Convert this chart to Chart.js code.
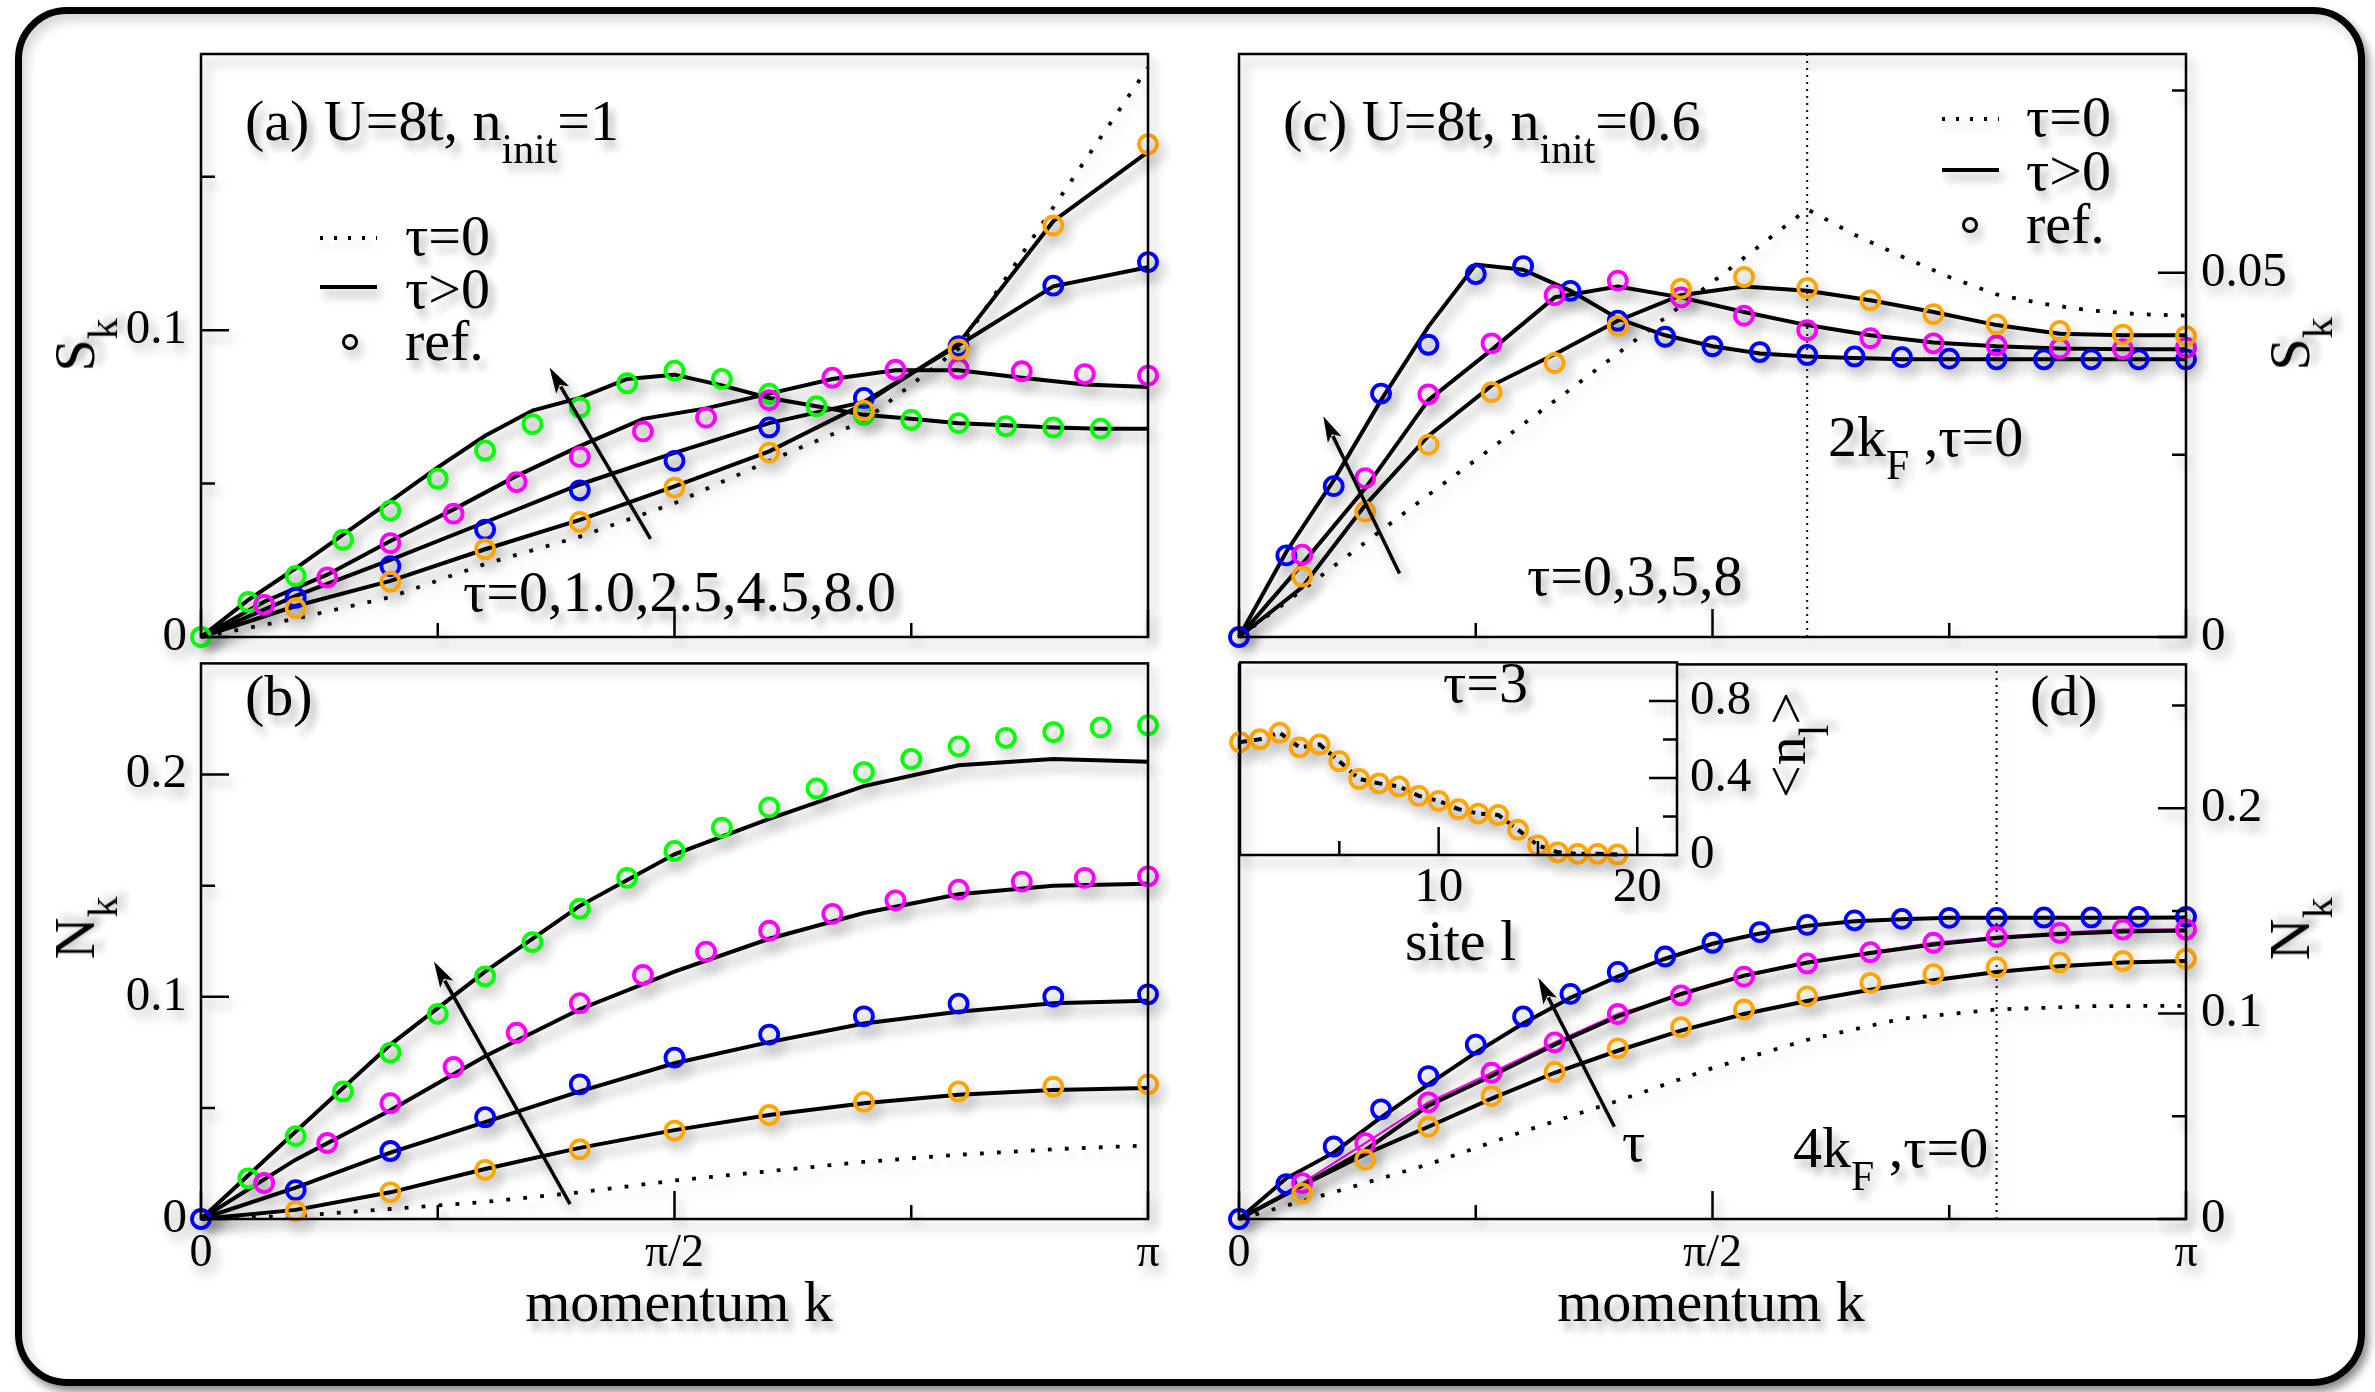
<!DOCTYPE html>
<html>
<head>
<meta charset="utf-8">
<title>Spin and charge structure factors after a ramp of the interaction</title>
<script src="https://cdn.jsdelivr.net/npm/chart.js@4.4.1/dist/chart.umd.min.js"></script>
<style>
  html, body { margin: 0; padding: 0; background: #fff; }
  body { width: 2375px; height: 1392px; position: relative; overflow: hidden;
         font-family: 'Liberation Serif', 'Times New Roman', serif; }
  #box { position: absolute; left: 15px; top: 7px; width: 2350px; height: 1379px; box-sizing: border-box;
         border: 7px solid #000; border-radius: 52px;
         box-shadow: 4px 6px 8px rgba(0,0,0,0.45), inset 5px 7px 12px rgba(0,0,0,0.16); }
  canvas { position: absolute; }
  .t { position: absolute; white-space: nowrap; font-size: 58px; line-height: 1; color: #000;
       text-shadow: 5px 8px 8px rgba(0,0,0,0.32); }
  .t sub { font-size: 0.72em; vertical-align: -0.55em; line-height: 0; }
  .c { transform: translateX(-50%); }
  .r { transform: translate(-50%, -50%) rotate(-90deg); }
  .smp { position: absolute; filter: drop-shadow(4px 7px 5px rgba(0,0,0,0.35)); }
  .dots { height: 3.5px; background: repeating-linear-gradient(90deg, #000 0 3.5px, transparent 3.5px 14px); }
  .bar { height: 4px; background: #000; }
  .ring { width: 16px; height: 16px; box-sizing: border-box; border: 3px solid #000; border-radius: 50%; }
</style>
</head>
<body>
<div id="box"></div>
<canvas id="cA" width="1200" height="690" style="left:0;top:0"></canvas>
<canvas id="cB" width="1200" height="760" style="left:0;top:620px"></canvas>
<canvas id="cC" width="1195" height="690" style="left:1180px;top:0"></canvas>
<canvas id="cD" width="1195" height="760" style="left:1180px;top:620px"></canvas>
<canvas id="cI" width="700" height="360" style="left:1180px;top:620px"></canvas>

<!-- panel (a) -->
<div class="t" style="left:245px;top:92px">(a) U=8t, n<sub>init</sub>=1</div>
<div class="smp dots" style="left:320px;top:236px;width:57px"></div>
<div class="smp bar" style="left:320px;top:285px;width:57px"></div>
<div class="smp ring" style="left:342px;top:334px"></div>
<div class="t" style="left:405px;top:207px">τ=0</div>
<div class="t" style="left:405px;top:260px">τ&gt;0</div>
<div class="t" style="left:405px;top:312px">ref.</div>
<div class="t" style="left:463px;top:563px">τ=0,1.0,2.5,4.5,8.0</div>
<div class="t r" style="left:75px;top:345px">S<sub>k</sub></div>

<!-- panel (b) -->
<div class="t" style="left:245px;top:667px">(b)</div>
<div class="t r" style="left:75px;top:928px">N<sub>k</sub></div>
<div class="t c" style="left:679px;top:1273px">momentum k</div>

<!-- panel (c) -->
<div class="t" style="left:1283px;top:92px">(c) U=8t, n<sub>init</sub>=0.6</div>
<div class="smp dots" style="left:1942px;top:117px;width:57px"></div>
<div class="smp bar" style="left:1942px;top:168px;width:57px"></div>
<div class="smp ring" style="left:1962px;top:217px"></div>
<div class="t" style="left:2026px;top:88px">τ=0</div>
<div class="t" style="left:2026px;top:142px">τ&gt;0</div>
<div class="t" style="left:2026px;top:195px">ref.</div>
<div class="t" style="left:1828px;top:408px">2k<sub>F</sub> ,τ=0</div>
<div class="t" style="left:1527px;top:547px">τ=0,3,5,8</div>
<div class="t r" style="left:2290px;top:344px">S<sub>k</sub></div>

<!-- panel (d) and inset -->
<div class="t" style="left:2030px;top:667px">(d)</div>
<div class="t" style="left:1443px;top:654px">τ=3</div>
<div class="t r" style="left:1786px;top:745px">&lt;n<sub>l</sub>&gt;</div>
<div class="t" style="left:1405px;top:912px">site l</div>
<div class="t" style="left:1622px;top:1113px">τ</div>
<div class="t" style="left:1793px;top:1119px">4k<sub>F</sub> ,τ=0</div>
<div class="t r" style="left:2290px;top:929px">N<sub>k</sub></div>
<div class="t c" style="left:1711px;top:1273px">momentum k</div>

<script>
// ---------- data ----------
// momentum grids, k in units of π
const k10 = [0, 0.1, 0.2, 0.3, 0.4, 0.5, 0.6, 0.7, 0.8, 0.9, 1];
const k15 = [0, 0.0667, 0.1333, 0.2, 0.2667, 0.3333, 0.4, 0.4667, 0.5333, 0.6, 0.6667, 0.7333, 0.8, 0.8667, 0.9333, 1];
const k20 = [0, 0.05, 0.1, 0.15, 0.2, 0.25, 0.3, 0.35, 0.4, 0.45, 0.5, 0.55, 0.6, 0.65, 0.7, 0.75, 0.8, 0.85, 0.9, 0.95, 1];

// axis ticks (k axis shared by all four panels)
const kTicks = [0, 0.25, 0.5, 0.75, 1];
const kLabels = ['0', '', 'π/2', '', 'π'];
const kMajor = [0, 0.5, 1];

// (a) spin structure factor S_k, U=8t, n_init=1
const aTau0  = [0, 0.006, 0.013, 0.0238, 0.0327, 0.0436, 0.0574, 0.0704, 0.094, 0.140, 0.1856];
const aLine1 = [0, 0.0101, 0.0183, 0.0286, 0.0382, 0.0491, 0.0605, 0.0759, 0.0957, 0.1355, 0.1581];
const aRef1  = [0.0094, 0.0180, 0.0286, 0.0375, 0.0487, 0.0601, 0.0738, 0.0937, 0.1341, 0.1606];
const aLine25 = [0, 0.0134, 0.0251, 0.0374, 0.0497, 0.0600, 0.0697, 0.0766, 0.0951, 0.1143, 0.1205];
const aRef25  = [0.0128, 0.0231, 0.0350, 0.0478, 0.0574, 0.0683, 0.0779, 0.0948, 0.1145, 0.1222];
const aLine45 = [0, 0.0115, 0.0203, 0.0313, 0.0416, 0.0525, 0.0622, 0.0711, 0.0745, 0.0793, 0.0841, 0.0869, 0.0869, 0.0845, 0.0823, 0.0815];
const aRef45  = [0.0105, 0.0194, 0.0306, 0.0402, 0.0505, 0.0587, 0.0670, 0.0715, 0.0772, 0.0845, 0.0871, 0.0875, 0.0866, 0.0857, 0.0852];
const aLine8 = [0, 0.0121, 0.0224, 0.0334, 0.0443, 0.0553, 0.0656, 0.0738, 0.0779, 0.0841, 0.0855, 0.0820, 0.0779, 0.0752, 0.0724, 0.0711, 0.0697, 0.0690, 0.0683, 0.0679, 0.0679];
const aRef8  = [0, 0.0114, 0.0199, 0.0317, 0.0412, 0.0516, 0.0608, 0.0694, 0.0748, 0.0827, 0.0868, 0.0841, 0.0793, 0.0752, 0.0724, 0.0708, 0.0697, 0.0687, 0.0683, 0.0679];
const aTicks = [0, 0.05, 0.1, 0.15];
const aLabels = ['0', '', '0.1', ''];
const aMajor = [0, 0.1];
const aArrow = [[0.4747, 0.0320], [0.368, 0.0878]];

// (b) charge structure factor N_k, U=8t, n_init=1
const bTau0  = [0, 0.0014, 0.0045, 0.0077, 0.0120, 0.0173, 0.0215, 0.0257, 0.0289, 0.0314, 0.0331];
const bLine1 = [0, 0.0041, 0.0120, 0.0225, 0.0320, 0.0400, 0.0468, 0.0521, 0.0559, 0.0580, 0.0589];
const bRef1  = [0.0035, 0.0120, 0.0221, 0.0314, 0.0398, 0.0468, 0.0527, 0.0574, 0.0595, 0.0606];
const bLine25 = [0, 0.0141, 0.0299, 0.0436, 0.0574, 0.0701, 0.0796, 0.0880, 0.0933, 0.0971, 0.0982];
const bRef25  = [0, 0.0130, 0.0306, 0.0458, 0.0606, 0.0726, 0.0830, 0.0912, 0.0969, 0.1001, 0.1011];
const bLine45 = [0, 0.0267, 0.0489, 0.0732, 0.0944, 0.1113, 0.1261, 0.1377, 0.1461, 0.1500, 0.1508];
const bRef45  = [0.0162, 0.0342, 0.0521, 0.0684, 0.0838, 0.0971, 0.1098, 0.1203, 0.1297, 0.1373, 0.1434, 0.1482, 0.1518, 0.1535, 0.1542];
const bLine8 = [0, 0.0394, 0.0785, 0.1113, 0.1409, 0.1641, 0.1800, 0.1948, 0.2042, 0.2070, 0.2058];
const bRef8  = [0.0183, 0.0373, 0.0574, 0.0749, 0.0923, 0.1092, 0.1246, 0.1396, 0.1535, 0.1656, 0.1761, 0.1852, 0.1937, 0.2011, 0.2070, 0.2127, 0.2165, 0.2191, 0.2212, 0.2222];
const bTicks = [0, 0.05, 0.1, 0.15, 0.2];
const bLabels = ['0', '', '0.1', '', '0.2'];
const bMajor = [0, 0.1, 0.2];
const bArrow = [[0.3897, 0.0067], [0.246, 0.1159]];

// (c) S_k, U=8t, n_init=0.6 ; τ = 0, 3, 5, 8
const cTau0 = [0, 0.0048, 0.0097, 0.0146, 0.0195, 0.0243, 0.0292, 0.034, 0.0389, 0.0438, 0.0487, 0.0537, 0.0587, 0.0552, 0.0522, 0.0494, 0.0470, 0.0457, 0.0448, 0.0443, 0.0441];
const cLine3 = [0, 0.0068, 0.0181, 0.0276, 0.0345, 0.0388, 0.0434, 0.0469, 0.0481, 0.0475, 0.0462, 0.0446, 0.0428, 0.0416, 0.0414, 0.0414];
const cRef3  = [0.0083, 0.0172, 0.0264, 0.0336, 0.0376, 0.0427, 0.0478, 0.0494, 0.0479, 0.0462, 0.0443, 0.0429, 0.0420, 0.0415, 0.0413];
const cLine5 = [0, 0.0100, 0.0204, 0.0325, 0.0394, 0.0466, 0.0481, 0.0466, 0.0446, 0.0428, 0.0414, 0.0404, 0.0399, 0.0396, 0.0395, 0.0395];
const cRef5  = [0.0113, 0.0218, 0.0333, 0.0403, 0.0469, 0.0489, 0.0466, 0.0441, 0.0421, 0.0410, 0.0403, 0.0400, 0.0396, 0.0395, 0.0397];
const cLine8 = [0, 0.0117, 0.0215, 0.0325, 0.0426, 0.0511, 0.0504, 0.0475, 0.0437, 0.0414, 0.0399, 0.0389, 0.0385, 0.0383, 0.0381, 0.0381, 0.0381, 0.0381, 0.0381, 0.0381, 0.0381];
const cRef8  = [0, 0.0112, 0.0207, 0.0334, 0.0401, 0.0498, 0.0509, 0.0475, 0.0434, 0.0412, 0.0399, 0.0391, 0.0387, 0.0385, 0.0384, 0.0382, 0.0381, 0.0381, 0.0381, 0.0381, 0.0381];
const cTicks = [0, 0.025, 0.05, 0.075];
const cLabels = ['0', '', '0.05', ''];
const cMajor = [0, 0.05];
const c2kF = 0.6;
const cArrow = [[0.1695, 0.0087], [0.089, 0.0303]];

// (d) N_k, U=8t, n_init=0.6
const dTau0 = [0, 0.013, 0.0266, 0.0426, 0.0575, 0.0735, 0.0872, 0.0975, 0.1020, 0.1036, 0.1038];
const dLine3 = [0, 0.0163, 0.0316, 0.0449, 0.0586, 0.0712, 0.0819, 0.0917, 0.0998, 0.1061, 0.1116, 0.1162, 0.1203, 0.1231, 0.1249, 0.1256];
const dRef3  = [0.0125, 0.0289, 0.0449, 0.0598, 0.0716, 0.0831, 0.0934, 0.1020, 0.1084, 0.1150, 0.1192, 0.1226, 0.1249, 0.1256, 0.1267];
const dLine5 = [0, 0.0163, 0.0335, 0.0552, 0.0696, 0.0849, 0.0986, 0.1096, 0.1185, 0.1249, 0.1295, 0.1336, 0.1368, 0.1388, 0.1400, 0.1404];
const dRef5  = [0.0175, 0.0369, 0.0568, 0.0712, 0.0860, 0.0998, 0.1089, 0.1180, 0.1244, 0.1299, 0.1345, 0.1374, 0.1393, 0.1409, 0.1409];
const dLine8 = [0, 0.0198, 0.0323, 0.0495, 0.0655, 0.0810, 0.0952, 0.1077, 0.1180, 0.1267, 0.1340, 0.1390, 0.1427, 0.1450, 0.1459, 0.1466, 0.1466, 0.1466, 0.1466, 0.1466, 0.1468];
const dRef8  = [0, 0.0170, 0.0353, 0.0534, 0.0696, 0.0849, 0.0986, 0.1096, 0.1203, 0.1278, 0.1345, 0.1397, 0.1432, 0.1454, 0.1461, 0.1466, 0.1466, 0.1468, 0.1468, 0.1471, 0.1471];
const dTicks = [0, 0.05, 0.1, 0.15, 0.2, 0.25];
const dLabels = ['0', '', '0.1', '', '0.2', ''];
const dMajor = [0, 0.1, 0.2];
const d4kF = 0.8;
const dArrow = [[0.3964, 0.0449], [0.316, 0.1174]];

// inset: site occupation <n_l> at τ=3
const sites = [0, 1, 2, 3, 4, 5, 6, 7, 8, 9, 10, 11, 12, 13, 14, 15, 16, 17, 18, 19];
const nSite = [0.586, 0.601, 0.635, 0.559, 0.574, 0.487, 0.395, 0.372, 0.356, 0.307, 0.281, 0.238, 0.215, 0.208, 0.131, 0.050, 0.014, 0.006, 0.006, 0.003];
const siteTicks = [5, 10, 15, 20];
const siteLabels = ['', '10', '', '20'];
const siteMajor = [10, 20];
const nTicks = [0, 0.2, 0.4, 0.6, 0.8];
const nLabels = ['0', '', '0.4', '', '0.8'];
const nMajor = [0.4, 0.8];

// ---------- styling ----------
const FONT = "'Liberation Serif', 'Times New Roman', serif";
const ORANGE = '#ffa500', BLUE = '#0000ff', MAGENTA = '#ff00ff', GREEN = '#00ff00';

Chart.defaults.color = '#000';
Chart.defaults.font.family = FONT;

const xy = (ks, ys, from = 0) => ys.map((y, i) => ({ x: ks[i + from], y }));

const solid = data => ({ data, showLine: true, borderColor: '#000', borderWidth: 4, pointRadius: 0, order: 2, clip: false });
const dotted = data => ({ data, showLine: true, borderColor: '#000', borderWidth: 3.8, borderDash: [3.8, 13.2],
  borderCapStyle: 'butt', pointRadius: 0, order: 3, clip: false });
const rings = (data, color) => ({ data, showLine: false, pointRadius: 9, pointBorderWidth: 3.8,
  pointBorderColor: color, pointBackgroundColor: 'rgba(0,0,0,0)', order: 1, clip: false });
const thin = (data, color) => ({ data, showLine: true, borderColor: color, borderWidth: 2, pointRadius: 0, order: 2.5, clip: false });
const marker = (k, top) => ({ data: [{ x: k, y: 0 }, { x: k, y: top }], showLine: true, borderColor: '#000',
  borderWidth: 2, borderDash: [2, 5], pointRadius: 0, order: 4, clip: false });

function shade(ctx) {
  ctx.shadowColor = 'rgba(0,0,0,0.33)';
  ctx.shadowBlur = 12;
  ctx.shadowOffsetX = 5;
  ctx.shadowOffsetY = 8;
}

// frame, inward tick marks and the τ arrow of one panel
function decor(d) {
  return {
    id: 'decor',
    beforeDraw(chart) {
      const { ctx, chartArea: a } = chart;
      if (d.fill) {
        ctx.save();
        ctx.fillStyle = '#fff';
        ctx.fillRect(a.left, a.top, a.right - a.left, a.bottom - a.top);
        ctx.restore();
      }
      ctx.save();
      shade(ctx);
    },
    afterDraw(chart) {
      const { ctx, chartArea: a, scales: { x, y } } = chart;
      ctx.setLineDash([]);
      ctx.strokeStyle = '#000';
      ctx.fillStyle = '#000';
      ctx.lineWidth = 2.5;
      ctx.strokeRect(a.left, a.top, a.right - a.left, a.bottom - a.top);
      ctx.beginPath();
      d.xt.vals.forEach(v => {
        const p = x.getPixelForValue(v), L = d.xt.major.includes(v) ? 28 : 14;
        ctx.moveTo(p, a.bottom); ctx.lineTo(p, a.bottom - L);
      });
      d.yt.vals.forEach(v => {
        const p = y.getPixelForValue(v), L = d.yt.major.includes(v) ? 28 : 14;
        const e = d.right ? a.right : a.left;
        ctx.moveTo(e, p); ctx.lineTo(d.right ? e - L : e + L, p);
      });
      ctx.stroke();
      if (d.arrow) {
        const [t, h] = d.arrow;
        const x0 = x.getPixelForValue(t[0]), y0 = y.getPixelForValue(t[1]);
        const x1 = x.getPixelForValue(h[0]), y1 = y.getPixelForValue(h[1]);
        const ang = Math.atan2(y1 - y0, x1 - x0), HL = 26, HW = 7.5;
        const bx = x1 - HL * Math.cos(ang), by = y1 - HL * Math.sin(ang);
        ctx.lineWidth = 3.5;
        ctx.beginPath(); ctx.moveTo(x0, y0); ctx.lineTo(bx + 4 * Math.cos(ang), by + 4 * Math.sin(ang)); ctx.stroke();
        ctx.beginPath();
        ctx.moveTo(x1, y1);
        ctx.lineTo(bx + HW * Math.sin(ang), by - HW * Math.cos(ang));
        ctx.lineTo(bx + 6 * Math.cos(ang), by + 6 * Math.sin(ang));
        ctx.lineTo(bx - HW * Math.sin(ang), by + HW * Math.cos(ang));
        ctx.closePath();
        ctx.fill();
      }
      ctx.restore();
    }
  };
}

function panel(id, c) {
  const label = (t, v) => { const i = t.vals.indexOf(v); return i < 0 ? '' : t.labels[i]; };
  return new Chart(document.getElementById(id), {
    type: 'scatter',
    data: { datasets: c.datasets },
    options: {
      responsive: false, animation: false, devicePixelRatio: 1, events: [],
      layout: { padding: c.pad, autoPadding: false },
      plugins: { legend: { display: false }, tooltip: { enabled: false } },
      scales: {
        x: {
          type: 'linear', position: 'bottom', min: c.xr[0], max: c.xr[1],
          grid: { display: false, drawTicks: false }, border: { display: false },
          ticks: { display: c.xt.show, autoSkip: false, maxRotation: 0, minRotation: 0, padding: c.xt.pad,
                   font: { family: FONT, size: c.xt.size }, color: '#000', callback: v => label(c.xt, v) },
          afterBuildTicks: s => { s.ticks = c.xt.vals.map(v => ({ value: v })); },
          afterFit: s => { s.height = c.xt.h; }
        },
        y: {
          type: 'linear', position: c.right ? 'right' : 'left', min: c.yr[0], max: c.yr[1],
          grid: { display: false, drawTicks: false }, border: { display: false },
          ticks: { autoSkip: false, padding: c.yt.pad, font: { family: FONT, size: c.yt.size }, color: '#000',
                   callback: v => label(c.yt, v) },
          afterBuildTicks: s => { s.ticks = c.yt.vals.map(v => ({ value: v })); },
          afterFit: s => { s.width = c.yt.w; }
        }
      }
    },
    plugins: [decor(c)]
  });
}

const kAxisHidden = { vals: kTicks, labels: kLabels, major: kMajor, show: false, pad: 8, size: 46, h: 0 };
const kAxisShown  = { vals: kTicks, labels: kLabels, major: kMajor, show: true,  pad: 7, size: 46, h: 80 };

// (a)
panel('cA', {
  xr: [0, 1], yr: [0, 0.19], right: false, arrow: aArrow,
  pad: { left: 51, top: 54, right: 52, bottom: 53 },
  xt: kAxisHidden,
  yt: { vals: aTicks, labels: aLabels, major: aMajor, pad: 14, size: 49, w: 150 },
  datasets: [
    rings(xy(k10, aRef1, 1), ORANGE), rings(xy(k10, aRef25, 1), BLUE),
    rings(xy(k15, aRef45, 1), MAGENTA), rings(xy(k20, aRef8), GREEN),
    solid(xy(k10, aLine1)), solid(xy(k10, aLine25)), solid(xy(k15, aLine45)), solid(xy(k20, aLine8)),
    dotted(xy(k10, aTau0))
  ]
});

// (b)
panel('cB', {
  xr: [0, 1], yr: [0, 0.25], right: false, arrow: bArrow,
  pad: { left: 51, top: 17, right: 52, bottom: 81 },
  xt: kAxisShown,
  yt: { vals: bTicks, labels: bLabels, major: bMajor, pad: 14, size: 49, w: 150 },
  datasets: [
    rings(xy(k10, bRef1, 1), ORANGE), rings(xy(k10, bRef25), BLUE),
    rings(xy(k15, bRef45, 1), MAGENTA), rings(xy(k20, bRef8, 1), GREEN),
    solid(xy(k10, bLine1)), solid(xy(k10, bLine25)), solid(xy(k10, bLine45)), solid(xy(k10, bLine8)),
    dotted(xy(k10, bTau0))
  ]
});

// (c)
panel('cC', {
  xr: [0, 1], yr: [0, 0.08], right: true, arrow: cArrow,
  pad: { left: 59, top: 54, right: 39, bottom: 53 },
  xt: kAxisHidden,
  yt: { vals: cTicks, labels: cLabels, major: cMajor, pad: 15, size: 49, w: 150 },
  datasets: [
    rings(xy(k15, cRef3, 1), ORANGE), rings(xy(k15, cRef5, 1), MAGENTA), rings(xy(k20, cRef8), BLUE),
    solid(xy(k15, cLine3)), solid(xy(k15, cLine5)), solid(xy(k20, cLine8)),
    dotted(xy(k20, cTau0)),
    marker(c2kF, 0.08)
  ]
});

// (d)
panel('cD', {
  xr: [0, 1], yr: [0, 0.27], right: true, arrow: dArrow,
  pad: { left: 59, top: 17, right: 39, bottom: 81 },
  xt: kAxisShown,
  yt: { vals: dTicks, labels: dLabels, major: dMajor, pad: 15, size: 49, w: 150 },
  datasets: [
    rings(xy(k15, dRef3, 1), ORANGE), rings(xy(k15, dRef5, 1), MAGENTA), rings(xy(k20, dRef8), BLUE),
    thin([{ x: 0, y: 0 }].concat(xy(k15, dRef5, 1)), MAGENTA),
    solid(xy(k15, dLine3)), solid(xy(k15, dLine5)), solid(xy(k20, dLine8)),
    dotted(xy(k10, dTau0)),
    marker(d4kF, 0.27)
  ]
});

// inset of (d)
panel('cI', {
  xr: [0, 22], yr: [0, 1], right: true, fill: true,
  pad: { left: 60, top: 17, right: 83, bottom: 65 },
  xt: { vals: siteTicks, labels: siteLabels, major: siteMajor, show: true, pad: 4, size: 49, h: 60 },
  yt: { vals: nTicks, labels: nLabels, major: nMajor, pad: 13, size: 49, w: 120 },
  datasets: [
    rings(xy(sites, nSite), ORANGE),
    { data: xy(sites, nSite), showLine: true, borderColor: '#000', borderWidth: 4, borderDash: [8, 6],
      pointRadius: 0, order: 2, clip: false }
  ]
});
</script>
</body>
</html>
